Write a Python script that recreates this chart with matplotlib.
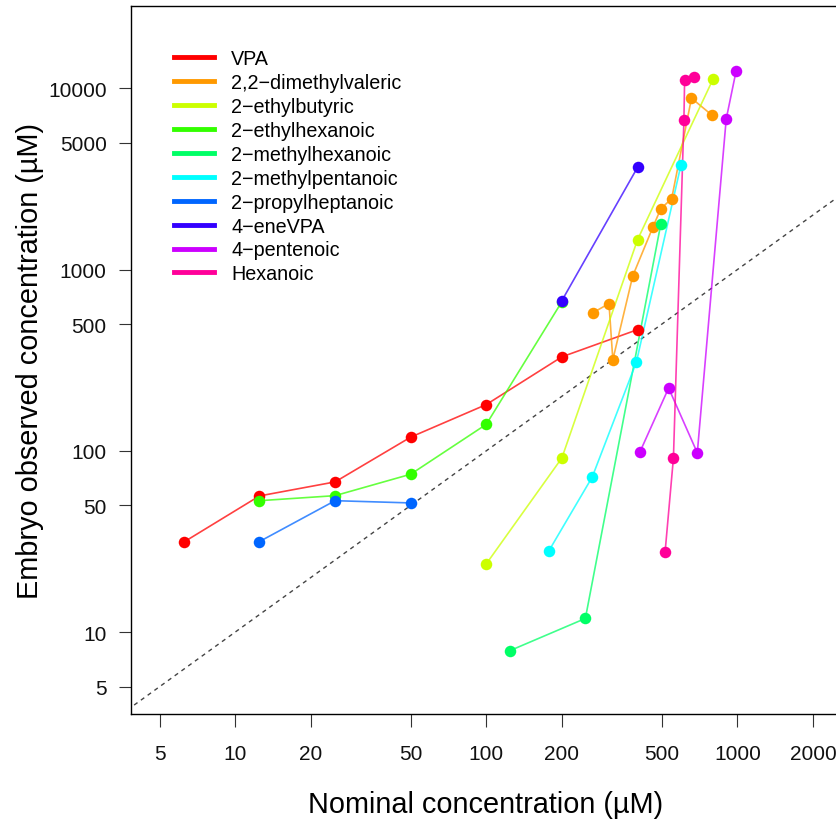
import matplotlib
matplotlib.use("Agg")
import matplotlib.pyplot as plt

plt.rcParams['font.family'] = ['Liberation Sans', 'DejaVu Sans']

# compounds and colours (R rainbow(10))
names = ['VPA', '2,2\u2212dimethylvaleric', '2\u2212ethylbutyric', '2\u2212ethylhexanoic',
         '2\u2212methylhexanoic', '2\u2212methylpentanoic', '2\u2212propylheptanoic',
         '4\u2212eneVPA', '4\u2212pentenoic', 'Hexanoic']
colors = ['#FF0000', '#FF9900', '#CCFF00', '#33FF00', '#00FF66',
          '#00FFFF', '#0066FF', '#3300FF', '#CC00FF', '#FF0099']

# nominal (x) and embryo observed (y) concentrations, uM
vpa_x = [6.25, 12.5, 25, 50, 100, 200, 400]
vpa_y = [31.4, 56.4, 67.4, 119, 180, 330, 466]
dmv_x = [266, 308, 319, 383, 460, 495, 547, 656, 789]
dmv_y = [578, 649, 318, 923, 1706, 2163, 2459, 8810, 7130]
eb_x = [100, 200, 400, 800]
eb_y = [23.8, 91.4, 1459, 11250]
eh_x = [12.5, 25, 50, 100, 200]
eh_y = [53.1, 56.6, 74.3, 140, 665]
mh_x = [124, 248, 495]
mh_y = [7.9, 11.9, 1778]
mp_x = [177, 264, 396, 596]
mp_y = [27.9, 71.6, 309, 3785]
ph_x = [12.5, 25, 50]
ph_y = [31.6, 53.1, 51.6]
ene_x = [200, 400]
ene_y = [674, 3656]
pent_x = [409, 532, 692, 902, 988]
pent_y = [98.6, 222, 97.5, 6760, 12470]
hex_x = [515, 556, 612, 616, 673]
hex_y = [27.6, 91.4, 6640, 11120, 11570]

xs = [vpa_x, dmv_x, eb_x, eh_x, mh_x, mp_x, ph_x, ene_x, pent_x, hex_x]
ys = [vpa_y, dmv_y, eb_y, eh_y, mh_y, mp_y, ph_y, ene_y, pent_y, hex_y]

fig = plt.figure(figsize=(8.37, 8.2), dpi=100)
ax = fig.add_axes([131 / 837, 105.3 / 820, 709 / 837, 707.4 / 820])
ax.set_xscale('log')
ax.set_yscale('log')
ax.set_xlim(3.85, 2560)
ax.set_ylim(3.55, 28300)

# identity line
ax.plot([1, 1e5], [1, 1e5], color='#444444', lw=1, ls=(0, (3, 3)), zorder=1)

for x, y, c in zip(xs, ys, colors):
    ax.plot(x, y, color=c, lw=1.2, alpha=0.75, zorder=2)
    ax.plot(x, y, 'o', color=c, ms=8.3, mec='none', zorder=3)

xt = [5, 10, 20, 50, 100, 200, 500, 1000, 2000]
yt = [5, 10, 50, 100, 500, 1000, 5000, 10000]
ax.set_xticks(xt)
ax.set_xticklabels([str(v) for v in xt])
ax.set_yticks(yt)
ax.set_yticklabels([str(v) for v in yt])
ax.minorticks_off()
ax.tick_params(direction='out', length=9, width=0.8, labelsize=15,
               color='#333333', labelcolor='#111111')
ax.tick_params(axis='x', pad=12.5)
ax.tick_params(axis='y', pad=8.5)
for s in ax.spines.values():
    s.set_linewidth(1.0)

ax.set_xlabel('Nominal concentration (\u00b5M)', fontsize=20.8, labelpad=20)
ax.set_ylabel('Embryo observed concentration (\u00b5M)', fontsize=20.8, labelpad=3)

handles = [plt.Line2D([], [], color=c, lw=3.5) for c in colors]
fig.legend(handles, names, loc='upper left', bbox_to_anchor=(174 / 837, 1 - 50 / 820),
           frameon=False, fontsize=14.2, handlelength=2.05, handletextpad=0.85,
           labelspacing=0.25, borderpad=0, borderaxespad=0)

fig.savefig('out.png', dpi=100)
